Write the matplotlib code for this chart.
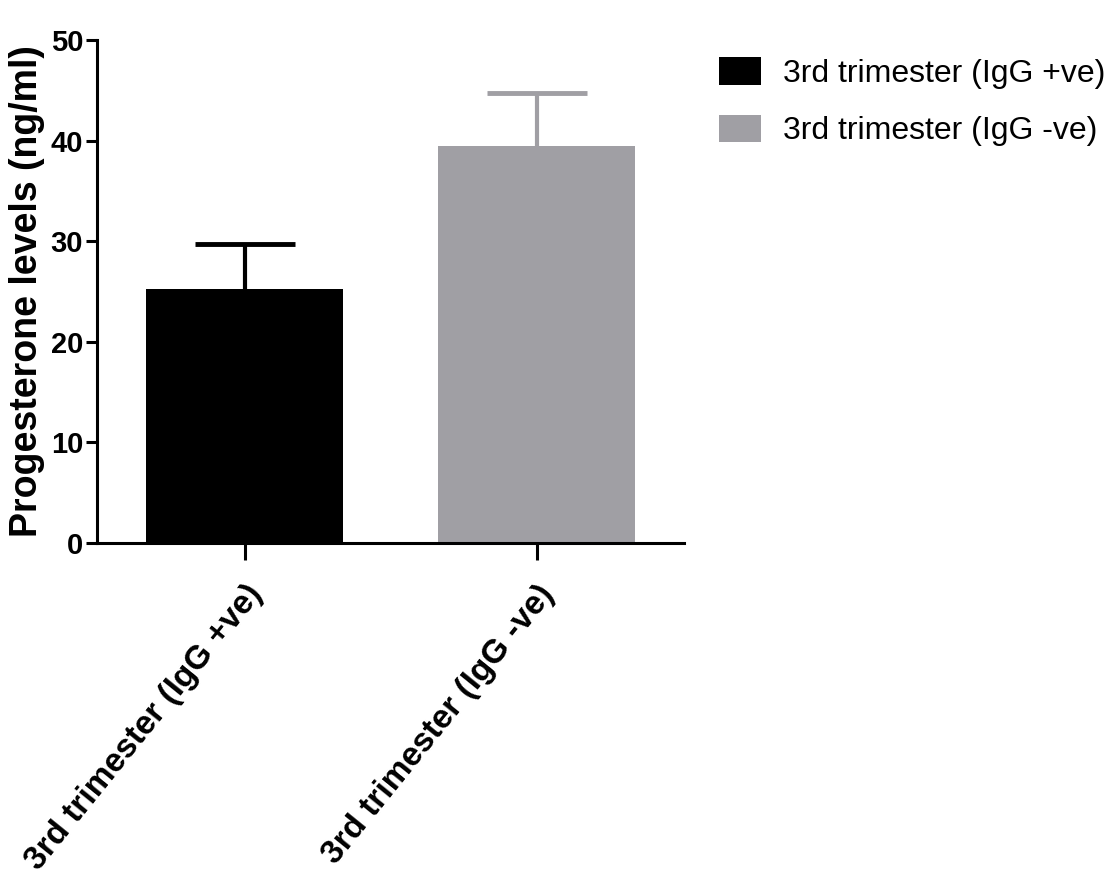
import matplotlib
matplotlib.use("Agg")
import matplotlib.pyplot as plt
from matplotlib.patches import Patch

# Progesterone levels, mean with upper SD bar
groups = ["3rd trimester (IgG +ve)", "3rd trimester (IgG -ve)"]
means = [25.2, 39.5]
sd = [4.5, 5.2]
colors = ["#000000", "#A09FA4"]

plt.rcParams["font.family"] = ["Liberation Sans", "DejaVu Sans"]

fig = plt.figure(figsize=(11.17, 8.8), dpi=100)
ax = fig.add_axes([0.0868, 0.383, 0.526, 0.5715])

x = list(range(len(groups)))
for i in x:
    ax.bar(i, means[i], width=0.675, color=colors[i], zorder=2)
    eb = ax.errorbar(i, means[i], yerr=[[0], [sd[i]]], fmt="none", ecolor=colors[i],
                     elinewidth=3, capsize=36, capthick=3.5, zorder=1)
    # only the upper cap is shown
    eb[1][0].set_visible(False)

ax.set_xlim(-0.507, 1.507)
ax.set_ylim(0, 50)
ax.set_yticks(range(0, 51, 10))
ax.set_xticks(x)
ax.set_xticklabels(groups, rotation=51, ha="right", va="top",
                   rotation_mode="anchor", fontsize=24, fontweight="bold")
for lbl in ax.get_yticklabels():
    lbl.set_fontsize(21)
    lbl.set_fontweight("bold")

ax.set_ylabel("Progesterone levels (ng/ml)", fontsize=27, fontweight="bold")
ax.yaxis.set_label_coords(-0.0885, 0.5)

for side in ["top", "right"]:
    ax.spines[side].set_visible(False)
for side in ["left", "bottom"]:
    ax.spines[side].set_linewidth(2.2)
ax.tick_params(axis="y", direction="out", length=8, width=2.2, pad=2)
ax.tick_params(axis="x", direction="out", length=12, width=2.2, pad=14)

handles = [Patch(facecolor=c, edgecolor="none") for c in colors]
fig.legend(handles, groups, loc="upper left", bbox_to_anchor=(0.644, 0.935),
           frameon=False, fontsize=23, handlelength=1.3, handleheight=0.95,
           handletextpad=0.7, labelspacing=0.8, borderpad=0, borderaxespad=0)

fig.savefig("out.png", dpi=100)
